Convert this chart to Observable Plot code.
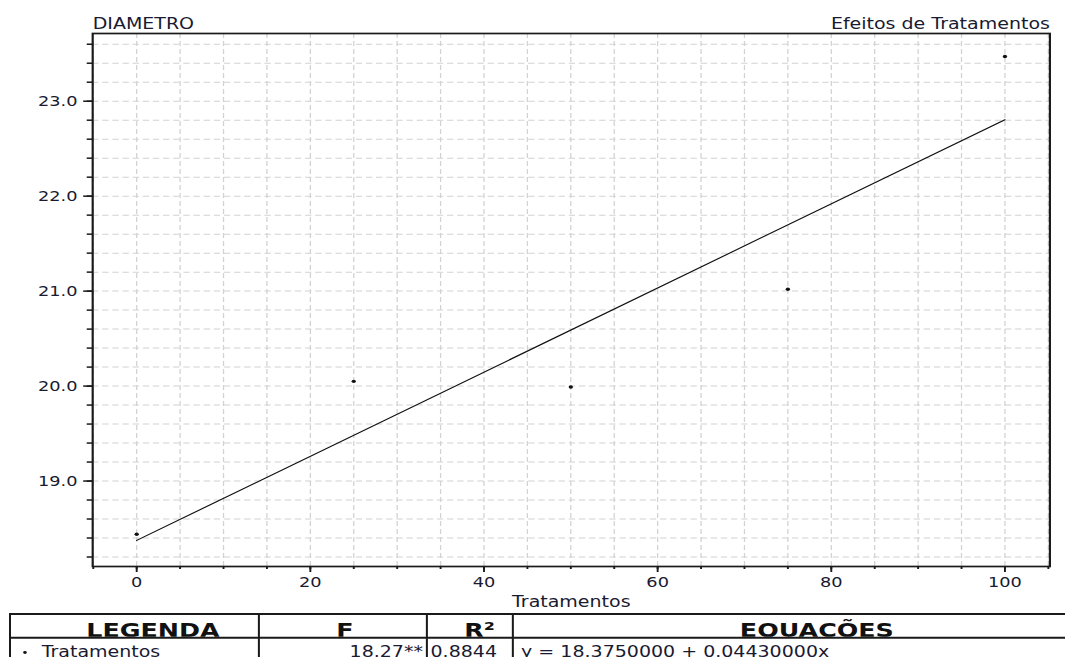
<!DOCTYPE html>
<html><head><meta charset="utf-8">
<script src="https://cdn.jsdelivr.net/npm/d3@7"></script>
<script src="https://cdn.jsdelivr.net/npm/@observablehq/plot@0.6"></script>
<style>
html,body{margin:0;padding:0;background:#fff;overflow:hidden;}
#wrap{width:840px;transform:scaleX(1.267857);transform-origin:0 0;}
#wrap svg{display:block;}
</style></head><body><div id="wrap"></div>
<script>
// ---- data ----
const chartTitle = "DIAMETRO";
const chartSubtitle = "Efeitos de Tratamentos";
const xLabel = "Tratamentos";
const tratamentos = [0, 25, 50, 75, 100];
const diametro = [18.44, 20.05, 19.99, 21.02, 23.47];
const fitX = [0, 100];
const fitY = [18.375, 22.805];
const xMajorTicks = [0, 20, 40, 60, 80, 100];
const xMinorTicks = [-5, 0, 5, 10, 15, 20, 25, 30, 35, 40, 45, 50, 55, 60, 65, 70, 75, 80, 85, 90, 95, 100, 105];
const yMajorTicks = [19, 20, 21, 22, 23];
const yMinorTicks = [18.2, 18.4, 18.6, 18.8, 19.0, 19.2, 19.4, 19.6, 19.8, 20.0, 20.2, 20.4, 20.6, 20.8, 21.0, 21.2, 21.4, 21.6, 21.8, 22.0, 22.2, 22.4, 22.6, 22.8, 23.0, 23.2, 23.4, 23.6];
const legendHeaders = ["LEGENDA", "F", "R²", "EQUAÇÕES"];
const legendSeries = ["Tratamentos"];
const legendF = ["18.27**"];
const legendR2 = ["0.8844"];
const legendEq = ["y = 18.3750000 + 0.04430000x"];

// ---- chart ----
const ink = "#1a1a30";
const font = "'DejaVu Sans', Verdana, sans-serif";
const points = tratamentos.map((x, i) => ({x, y: diametro[i]}));
const fit = fitX.map((x, i) => ({x, y: fitY[i]}));
const gridStyle = {stroke: "#d2d2d2", strokeOpacity: 1, strokeWidth: 1, strokeDasharray: "5,3"};

const chart = Plot.plot({
  width: 840, height: 612,
  marginLeft: 72.6, marginRight: 12.4, marginTop: 33, marginBottom: 46,
  style: {fontFamily: font, fontSize: "14px", color: ink, background: "white", overflow: "visible"},
  x: {domain: [-5.07, 105.18]},
  y: {domain: [18.1, 23.713]},
  marks: [
    Plot.gridX(xMinorTicks, gridStyle),
    Plot.gridY(yMinorTicks, gridStyle),
    Plot.frame({stroke: "#1a1a1a", strokeWidth: 1.7}),
    Plot.line(fit, {x: "x", y: "y", stroke: "#111", strokeWidth: 1.1}),
    Plot.dot(points, {x: "x", y: "y", r: 1.7, fill: "#111", stroke: null}),
    Plot.axisX(xMinorTicks, {tickSize: 3, strokeWidth: 1.5, stroke: "#1a1a1a", tickFormat: () => null, label: null}),
    Plot.axisX(xMajorTicks, {tickSize: 6, strokeWidth: 1.5, stroke: "#1a1a1a", tickPadding: 5, tickFormat: d => String(d), label: null, fontSize: 14}),
    Plot.axisY(yMinorTicks, {tickSize: 4.2, strokeWidth: 1.5, stroke: "#1a1a1a", tickFormat: () => null, label: null}),
    Plot.axisY(yMajorTicks, {tickSize: 7, strokeWidth: 1.5, stroke: "#1a1a1a", tickPadding: 5, tickFormat: d3.format(".1f"), label: null, fontSize: 14}),
    Plot.text([chartTitle], {text: d => d, frameAnchor: "top-left", textAnchor: "start", lineAnchor: "bottom", dy: -5, fontSize: 15}),
    Plot.text([chartSubtitle], {text: d => d, frameAnchor: "top-right", textAnchor: "end", lineAnchor: "bottom", dy: -5, fontSize: 15}),
    Plot.text([xLabel], {text: d => d, frameAnchor: "bottom", lineAnchor: "bottom", dy: 40.5, fontSize: 15})
  ]
});
const wrap = document.getElementById("wrap");
wrap.append(chart);

// ---- legend table (below the chart) ----
const colX = [7.9, 204.2, 336.7, 404.5];
const L = d3.create("svg")
  .attr("width", 840).attr("height", 45)
  .attr("font-family", font)
  .style("background", "white");
const lineCol = "#1a1a1a";
L.append("line").attr("x1", colX[0]).attr("x2", 840).attr("y1", 2).attr("y2", 2).attr("stroke", lineCol).attr("stroke-width", 2);
L.append("line").attr("x1", colX[0]).attr("x2", 840).attr("y1", 25.7).attr("y2", 25.7).attr("stroke", lineCol).attr("stroke-width", 2);
colX.forEach(x => L.append("line").attr("x1", x).attr("x2", x).attr("y1", 1).attr("y2", 45).attr("stroke", lineCol).attr("stroke-width", 1.6));
L.append("clipPath").attr("id", "hdrclip").append("rect").attr("x", 0).attr("y", 3).attr("width", 840).attr("height", 21.7);
const hdr = L.append("g").attr("clip-path", "url(#hdrclip)")
  .attr("font-weight", "bold").attr("font-size", 20).attr("fill", "#111").attr("text-anchor", "middle");
const hdrCenters = [120.7, 272, 378.2, 644.3];
legendHeaders.forEach((t, i) => hdr.append("text").attr("x", hdrCenters[i]).attr("y", 25).text(t));
const row = L.append("g").attr("font-size", 15).attr("fill", ink);
L.append("circle").attr("cx", 19.7).attr("cy", 40.5).attr("r", 1.4).attr("fill", "#111");
const rowY = 44.6;
row.append("text").attr("x", 32.9).attr("y", rowY).text(legendSeries[0]);
row.append("text").attr("x", 333.6).attr("y", rowY).attr("text-anchor", "end").text(legendF[0]);
row.append("text").attr("x", 392).attr("y", rowY).attr("text-anchor", "end").text(legendR2[0]);
row.append("text").attr("x", 411).attr("y", rowY).text(legendEq[0]);
wrap.append(L.node());
</script>
</body></html>
